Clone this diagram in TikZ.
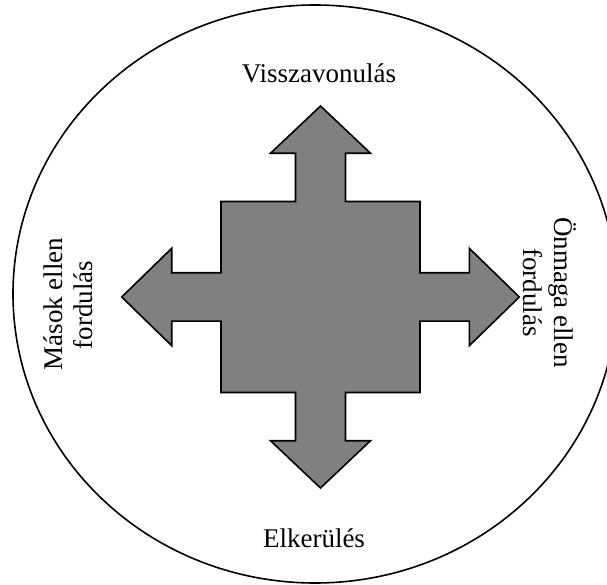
\documentclass[tikz,border=0pt]{standalone}
\usepackage{fontspec}
\setmainfont{Liberation Serif}
\begin{document}
\begin{tikzpicture}[x=1pt,y=1pt,
  lbl/.style={font=\fontsize{27}{30}\selectfont, inner sep=0pt, anchor=base},
  outline/.style={draw=black, line width=1.6pt}]
\useasboundingbox (0,0) rectangle (607,584);
\begin{scope}
\clip (0,0) rectangle (607,584);
\draw[outline] (315,290) ellipse [x radius=302, y radius=289];
\end{scope}
% cross arrow
\begin{scope}[shift={(320.5,287)}]
\draw[outline, fill=gray, line join=miter]
 (0,191) -- (50,143.7) -- (25,143.7) -- (25,95.5) -- (99.5,95.5) -- (99.5,24.2)
 -- (148.8,24.2) -- (148.8,48.7) -- (198.8,0) -- (148.8,-48.7) -- (148.8,-24.2)
 -- (99.5,-24.2) -- (99.5,-95.5) -- (25,-95.5) -- (25,-143.7) -- (50,-143.7)
 -- (0,-191) -- (-50,-143.7) -- (-25,-143.7) -- (-25,-95.5) -- (-99.5,-95.5)
 -- (-99.5,-24.2) -- (-148.8,-24.2) -- (-148.8,-48.7) -- (-198.8,0)
 -- (-148.8,48.7) -- (-148.8,24.2) -- (-99.5,24.2) -- (-99.5,95.5)
 -- (-25,95.5) -- (-25,143.7) -- (-50,143.7) -- cycle;
\end{scope}
\node[lbl] (top) at (319,501) {Visszavonulás};
\node[lbl] (bottom) at (314,37) {Elkerülés};
\node[lbl, rotate=90] (left1) at (62,280) {Mások ellen};
\node[lbl, rotate=90] (left2) at (92,279) {fordulás};
\node[lbl, rotate=-90] (right1) at (554,291.5) {Önmaga ellen};
\node[lbl, rotate=-90] (right2) at (523,291.5) {fordulás};
\end{tikzpicture}
\end{document}
